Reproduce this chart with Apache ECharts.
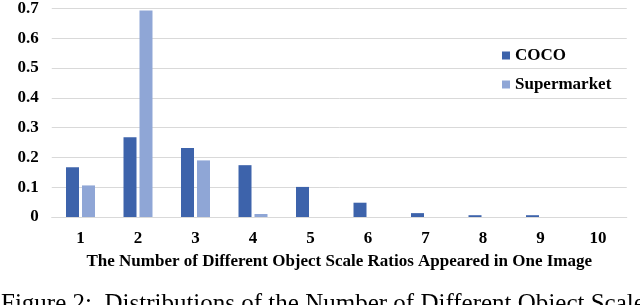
<!DOCTYPE html>
<html>
<head>
<meta charset="utf-8">
<script src="https://cdn.jsdelivr.net/npm/echarts@6/dist/echarts.min.js"></script>
<style>html,body{margin:0;padding:0;background:#fff;}#c{width:640px;height:305px;}</style>
</head>
<body>
<div id="c"></div>
<script>
const categories = ['1','2','3','4','5','6','7','8','9','10'];
const cocoValues = [0.167, 0.268, 0.232, 0.174, 0.101, 0.048, 0.013, 0.006, 0.006, 0];
const supermarketValues = [0.106, 0.693, 0.190, 0.010, 0, 0, 0, 0, 0, 0];
const seriesNames = ['COCO', 'Supermarket'];
const xAxisTitle = 'The Number of Different Object Scale Ratios Appeared in One Image';
const captionText = 'Figure 2:  Distributions of the Number of Different Object Scale';

const serif = "'Liberation Serif', 'Times New Roman', serif";
const chart = echarts.init(document.getElementById('c'), null, {renderer: 'canvas'});
chart.setOption({
  animation: false,
  backgroundColor: '#fff',
  grid: {left: 51.75, right: 13.25, top: 7, bottom: 88, containLabel: false},
  legend: {
    orient: 'vertical', left: 497, top: 42, itemGap: 12,
    itemWidth: 8, itemHeight: 8, icon: 'rect',
    textStyle: {fontFamily: serif, fontWeight: 'bold', fontSize: 17, color: '#000'},
    data: seriesNames
  },
  xAxis: {
    type: 'category', data: categories,
    axisLine: {lineStyle: {color: '#d9d9d9', width: 1}},
    axisTick: {show: false},
    axisLabel: {fontFamily: serif, fontWeight: 'bold', fontSize: 17, color: '#000', margin: 13},
    name: xAxisTitle, nameLocation: 'middle', nameGap: 36,
    nameTextStyle: {fontFamily: serif, fontWeight: 'bold', fontSize: 17, color: '#000'}
  },
  yAxis: {
    type: 'value', min: 0, max: 0.7, interval: 0.1,
    axisLine: {show: false}, axisTick: {show: false},
    splitLine: {lineStyle: {color: '#d9d9d9', width: 1}},
    axisLabel: {fontFamily: serif, fontWeight: 'bold', fontSize: 17, color: '#000', margin: 13}
  },
  series: [
    {name: seriesNames[0], type: 'bar', data: cocoValues, barWidth: 13, barGap: '23%', itemStyle: {color: '#3d63ab'}},
    {name: seriesNames[1], type: 'bar', data: supermarketValues, barWidth: 13, barGap: '23%', itemStyle: {color: '#8fa6d6'}}
  ],
  graphic: [{
    type: 'text', left: 1, top: 292,
    style: {text: captionText, font: "25px 'Liberation Serif', 'Times New Roman', serif", fill: '#000'}
  }]
});
</script>
</body>
</html>
